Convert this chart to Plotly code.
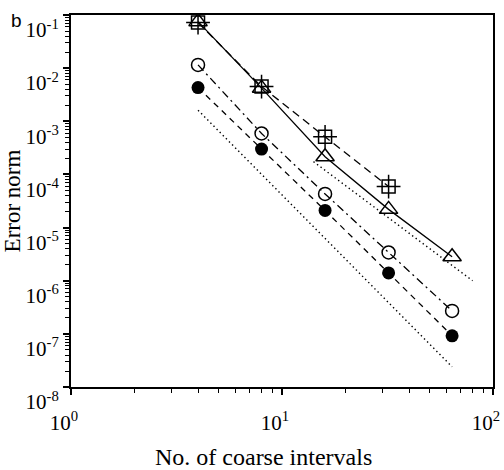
import plotly.graph_objects as go

# Data
n_intervals = [4, 8, 16, 32, 64]
err_triangle = [0.075, 0.0042, 2.15e-4, 2.2e-5, 2.83e-6]
n_square = [4, 8, 16, 32]
err_square = [0.072, 0.0045, 5.1e-4, 5.9e-5]
err_open_circle = [0.0115, 5.9e-4, 4.3e-5, 3.4e-6, 2.7e-7]
err_filled_circle = [0.0043, 3.0e-4, 2.1e-5, 1.4e-6, 9.2e-8]
ref4_x = [4, 64]
ref4_y = [1.62e-3, 2.4e-8]
ref3_x = [14.1, 80]
ref3_y = [1.74e-4, 1.0e-6]

x_exponents = [0, 1, 2]
y_exponents = [-1, -2, -3, -4, -5, -6, -7, -8]

black = "#000000"
serif = "Liberation Serif, Times New Roman, serif"

fig = go.Figure()

# reference slopes (dotted)
fig.add_trace(go.Scatter(x=ref4_x, y=ref4_y, mode="lines",
                         line=dict(color=black, width=1.4, dash="1.4px,3px")))
fig.add_trace(go.Scatter(x=ref3_x, y=ref3_y, mode="lines",
                         line=dict(color=black, width=1.4, dash="1.4px,3px")))

# filled circles, dashed
fig.add_trace(go.Scatter(x=n_intervals, y=err_filled_circle, mode="lines+markers",
                         line=dict(color=black, width=1.3, dash="6px,5px"),
                         marker=dict(symbol="circle", size=13, color=black)))
# open circles, dash-dot
fig.add_trace(go.Scatter(x=n_intervals, y=err_open_circle, mode="lines+markers",
                         line=dict(color=black, width=1.3, dash="8px,4px,2px,4px"),
                         marker=dict(symbol="circle-open", size=13, color=black,
                                     line=dict(color=black, width=1.5))))
# squares with cross, dashed
fig.add_trace(go.Scatter(x=n_square, y=err_square, mode="lines+markers",
                         line=dict(color=black, width=1.3, dash="8px,5px"),
                         marker=dict(symbol="square-open", size=13, color=black,
                                     line=dict(color=black, width=1.5))))
fig.add_trace(go.Scatter(x=n_square, y=err_square, mode="markers",
                         marker=dict(symbol="cross-thin-open", size=17, color=black,
                                     line=dict(color=black, width=1.5))))
# triangles, solid
fig.add_trace(go.Scatter(x=n_intervals, y=err_triangle, mode="lines+markers",
                         line=dict(color=black, width=1.3),
                         marker=dict(symbol="triangle-up-open", size=16, color=black,
                                     line=dict(color=black, width=1.5))))


def minor_vals(exps):
    lo, hi = min(exps), max(exps)
    return [m * 10 ** e for e in range(lo, hi) for m in range(2, 10)]


axis_common = dict(
    type="log", showgrid=False, zeroline=False, automargin=False,
    showline=True, linecolor=black, linewidth=2, mirror=True,
    ticks="outside", ticklen=6, tickwidth=1.5, tickcolor=black,
    tickfont=dict(family=serif, size=21, color=black),
)

fig.update_layout(
    width=504, height=470,
    margin=dict(l=71, r=11, t=15, b=83),
    paper_bgcolor="white", plot_bgcolor="white",
    showlegend=False,
    xaxis=dict(axis_common, range=[0, 2],
               tickvals=[10 ** e for e in x_exponents],
               ticktext=["10<sup>%d</sup>" % e for e in x_exponents],
               minor=dict(ticks="outside", ticklen=4, tickwidth=1, tickcolor=black,
                          tickvals=minor_vals(x_exponents)),
               ticklabelstandoff=10, ticklabelshift=-7),
    yaxis=dict(axis_common, range=[-8, -1],
               tickvals=[10 ** e for e in y_exponents],
               ticktext=["10<sup>%d</sup>" % e for e in y_exponents],
               minor=dict(ticks="outside", ticklen=4, tickwidth=1, tickcolor=black,
                          tickvals=minor_vals(y_exponents)),
               title=dict(text="Error norm",
                          font=dict(family=serif, size=23, color=black), standoff=3),
               ticklabelshift=15, ticklabelstandoff=0),
    annotations=[
        dict(text="b", xref="paper", yref="paper", x=-0.128, y=0.984,
             xanchor="center", yanchor="middle", showarrow=False,
             font=dict(family="Liberation Sans, Arial, sans-serif", size=19, color=black)),
        dict(text="No. of coarse intervals", xref="paper", yref="paper",
             x=0.457, y=-0.188, xanchor="center", yanchor="middle", showarrow=False,
             font=dict(family=serif, size=24, color=black)),
    ],
)

fig.write_html("out.html", config={"displayModeBar": False},
               post_script="document.body.style.margin='0px';")
